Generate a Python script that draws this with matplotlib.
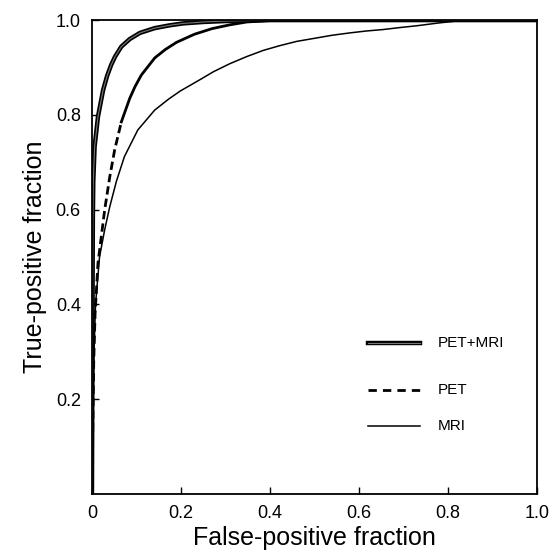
import matplotlib
matplotlib.use("Agg")
import matplotlib.pyplot as plt
import numpy as np

plt.rcParams['font.family'] = ['Liberation Sans', 'DejaVu Sans']

# PET+MRI ROC curve
fpf_combined = [0.0, 0.0005, 0.001, 0.0015, 0.002, 0.003, 0.006, 0.0135, 0.025, 0.034,
                0.043, 0.052, 0.066, 0.085, 0.108, 0.141, 0.175, 0.205, 0.25, 0.30,
                0.40, 0.70, 1.0]
tpf_combined = [0.0, 0.15, 0.30, 0.45, 0.58, 0.66, 0.733, 0.796, 0.852, 0.882,
                0.905, 0.923, 0.944, 0.960, 0.973, 0.983, 0.989, 0.993, 0.996, 0.998,
                1.0, 1.0, 1.0]

# PET ROC curve
fpf_pet = [0.0, 0.002, 0.004, 0.007, 0.0135, 0.021, 0.0285, 0.040, 0.051, 0.066,
           0.085, 0.097, 0.111, 0.141, 0.165, 0.190, 0.230, 0.270, 0.310, 0.348,
           0.40, 0.50, 1.0]
tpf_pet = [0.0, 0.15, 0.28, 0.38, 0.487, 0.543, 0.599, 0.669, 0.726, 0.785,
           0.835, 0.860, 0.884, 0.920, 0.938, 0.953, 0.970, 0.982, 0.990, 0.996,
           0.999, 1.0, 1.0]

# MRI ROC curve
fpf_mri = [0.0, 0.002, 0.004, 0.008, 0.017, 0.0285, 0.040, 0.055, 0.073, 0.103,
           0.141, 0.172, 0.198, 0.246, 0.273, 0.310, 0.348, 0.385, 0.422, 0.46,
           0.497, 0.54, 0.580, 0.617, 0.654, 0.69, 0.73, 0.78, 0.82, 0.87, 1.0]
tpf_mri = [0.0, 0.15, 0.28, 0.40, 0.50, 0.557, 0.606, 0.660, 0.712, 0.768,
           0.810, 0.833, 0.850, 0.876, 0.891, 0.908, 0.923, 0.936, 0.946, 0.955,
           0.961, 0.968, 0.973, 0.977, 0.980, 0.984, 0.988, 0.994, 0.998, 1.0, 1.0]

legend_labels = ["PET+MRI", "PET", "MRI"]
x_ticks = [0, 0.2, 0.4, 0.6, 0.8, 1.0]
x_ticklabels = ["0", "0.2", "0.4", "0.6", "0.8", "1.0"]
y_ticks = [0.2, 0.4, 0.6, 0.8, 1.0]
y_ticklabels = ["0.2", "0.4", "0.6", "0.8", "1.0"]

fig = plt.figure(figsize=(5.54, 5.58), dpi=100)
ax = fig.add_axes([0.166, 0.115, 0.803, 0.849])

ax.plot(fpf_mri, tpf_mri, color='black', lw=1.1, solid_joinstyle='round')

fp = np.array(fpf_pet)
tp = np.array(tpf_pet)
low = tp <= 0.80
ax.plot(fp[low], tp[low], color='black', lw=2.0, linestyle=(0, (3, 1.5)))
high = tp >= 0.785
ax.plot(fp[high], tp[high], color='black', lw=2.0, solid_joinstyle='round')

ax.plot(fpf_combined, tpf_combined, color='black', lw=3.2, solid_joinstyle='round')
ax.plot(fpf_combined, tpf_combined, color='#777777', lw=0.8)

# legend drawn in data coordinates
leg_y = [0.319, 0.219, 0.143]
ax.plot([0.62, 0.737], [leg_y[0]] * 2, color='black', lw=3.2)
ax.plot([0.62, 0.737], [leg_y[0]] * 2, color='#777777', lw=0.8)
ax.plot([0.62, 0.737], [leg_y[1]] * 2, color='black', lw=2.0, linestyle=(0, (3, 2.2)))
ax.plot([0.62, 0.737], [leg_y[2]] * 2, color='black', lw=1.1)
for lab, yy in zip(legend_labels, leg_y):
    ax.text(0.778, yy, lab, fontsize=11, va='center', ha='left')

ax.set_xlim(0, 1)
ax.set_ylim(0, 1)
ax.set_xticks(x_ticks)
ax.set_xticklabels(x_ticklabels)
ax.set_yticks(y_ticks)
ax.set_yticklabels(y_ticklabels)
ax.tick_params(direction='in', length=5, width=1, labelsize=13, pad=8)
for s in ax.spines.values():
    s.set_linewidth(1.3)

ax.set_xlabel("False-positive fraction", fontsize=18, labelpad=3)
ax.set_ylabel("True-positive fraction", fontsize=18, labelpad=6)

fig.savefig("out.png", dpi=100)
